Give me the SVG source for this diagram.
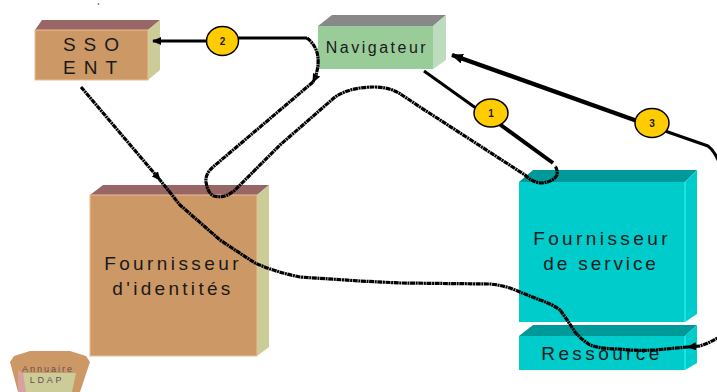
<svg xmlns="http://www.w3.org/2000/svg" width="717" height="392" viewBox="0 0 717 392">
<style>
text{font-family:"Liberation Sans",Arial,sans-serif;fill:#1a1a1a;text-anchor:middle}
.lbl{font-size:19px}
.num{font-size:10px;font-weight:bold}
.c{fill:none;stroke:#000;stroke-linejoin:round}
.solid{stroke-width:3}
.rough{stroke-width:3.200;stroke-dasharray:5 .6 2 .6}
.badge{fill:#fc0;stroke:#000;stroke-width:1.500}
.tan{fill:#cc9966;stroke:#eebb90;stroke-width:1}
.cyan{fill:#00cccc}
.sub{font-size:9px;fill:#664d55}
</style>
<defs>
<marker id="ah" markerUnits="userSpaceOnUse" markerWidth="12" markerHeight="10" refX="11" refY="5" orient="auto"><path d="M0 0L12 5L0 10Z" fill="#000"/></marker>
<marker id="ahs" markerUnits="userSpaceOnUse" markerWidth="9" markerHeight="8" refX="8" refY="4" orient="auto"><path d="M0 0L9 4L0 8Z" fill="#000"/></marker>
</defs>
<rect width="717" height="392" fill="#fff"/>
<circle cx="98.500" cy="4" r="0.800" fill="#333"/>
<g id="sso">
<path d="M35 30L42 20H160L148 30Z" fill="#996666"/>
<path d="M148 30L160 20V70L148 80Z" fill="#cccc99"/>
<rect class="tan" x="35" y="30" width="113" height="50"/>
<text class="lbl" x="91" y="51" letter-spacing="8" dx="4">SSO</text>
<text class="lbl" x="90" y="74" letter-spacing="8" dx="4">ENT</text>
</g>
<g id="navigateur">
<path d="M318 26L332 15H446L433 26Z" fill="#888"/>
<path d="M433 26L446 15V60L433 69Z" fill="#bddbbd"/>
<rect x="318" y="26" width="115" height="43" fill="#99cc99"/>
<text x="377" y="53" font-size="16" letter-spacing="2.500">Navigateur</text>
</g>
<g id="fournisseur-identites">
<path d="M90 195L103 185H269L257 195Z" fill="#996666"/>
<path d="M257 195L269 185V347L257 356Z" fill="#cccc99"/>
<rect class="tan" x="90" y="195" width="167" height="161"/>
<text class="lbl" x="173" y="270" letter-spacing="3.400">Fournisseur</text>
<text class="lbl" x="173" y="295" letter-spacing="3.300">d'identités</text>
</g>
<g id="fournisseur-service">
<path d="M519 182L533 170H697L685 182Z" fill="#009999"/>
<path d="M685 182L697 170V314L685 322Z" class="cyan"/>
<rect class="cyan" x="519" y="182" width="166" height="140"/>
<path d="M685 182V322" stroke="#33ffff" fill="none"/>
<text class="lbl" x="602" y="245" letter-spacing="3.400">Fournisseur</text>
<text class="lbl" x="601" y="270" letter-spacing="2.900">de service</text>
</g>
<g id="ressource">
<path d="M519 336L533 325H697L685 336Z" fill="#009999"/>
<path d="M685 336L697 325V363L685 370Z" class="cyan"/>
<rect class="cyan" x="519" y="336" width="166" height="34"/>
<path d="M685 336V370" stroke="#33ffff" fill="none"/>
<text class="lbl" x="602" y="360" letter-spacing="3.400">Ressource</text>
</g>
<g id="annuaire">
<path d="M10 362L14 356L30 351H70L86 356L90 362L80 392H18Z" fill="#cc9966"/>
<path d="M18 370L23 373L28 392H18Z" fill="#d9a0a0"/>
<path d="M23 373H76L72 392H26Z" fill="#cccc99"/>
<text class="sub" x="48" y="372" letter-spacing="2">Annuaire</text>
<text class="sub" x="47" y="383" letter-spacing="2.800">LDAP</text>
</g>
<g id="connectors">
<path class="c solid" d="M207 41H153" marker-end="url(#ahs)"/>
<path class="c solid" d="M238 38H307"/>
<path class="c rough" d="M307 38Q317 46 318 58Q319 70 313 82" marker-end="url(#ahs)"/>
<path class="c rough" d="M313 82L213 167Q205 174 206 182Q208 194 214 196Q225 199 235 190L280 145L335 97Q346 90 360 88Q375 86 385 88Q395 90 402 95L420 107L525 175Q533 183 542 183Q553 182 557 175Q558 170 555 166"/>
<path class="c" stroke-width="3" d="M424 71L480 111"/>
<path class="c" stroke-width="4" d="M498 123L553 163"/>
<path class="c" stroke-width="4.500" d="M640 122L452 55" marker-end="url(#ah)"/>
<path class="c" stroke-width="3" d="M665 131L708 146Q716 152 722 170"/>
<path class="c rough" d="M722 335Q712 342 700 346L688 347" marker-end="url(#ahs)"/>
<path class="c rough" d="M688 347L655 350Q635 351 620 349Q600 349 590 345Q582 340 575 332Q566 318 560 310Q552 304 540 300L510 288Q500 285 490 284L400 283L360 281L300 277Q275 272 255 263Q238 252 220 240L180 205L160 180"/>
<path class="c rough" d="M81 87L160 180" marker-end="url(#ahs)"/>
</g>
<g id="badges">
<ellipse class="badge" cx="222.500" cy="41" rx="16" ry="14.500"/><text class="num" x="222.500" y="45">2</text>
<ellipse class="badge" cx="491" cy="113" rx="17" ry="14"/><text class="num" x="491" y="117">1</text>
<ellipse class="badge" cx="652" cy="123" rx="17" ry="14.500"/><text class="num" x="652" y="127">3</text>
</g>
</svg>
